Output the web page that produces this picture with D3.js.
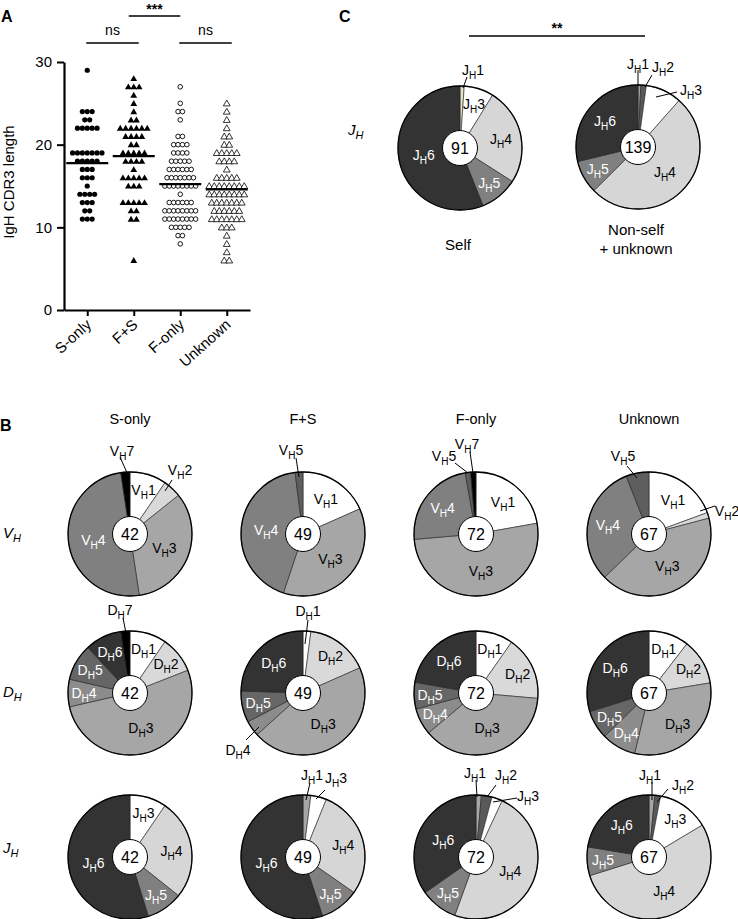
<!DOCTYPE html>
<html><head><meta charset="utf-8">
<script src="https://cdn.jsdelivr.net/npm/d3@7"></script>
<style>body{margin:0;background:#fff} svg{display:block} text{font-family:Arial,"Liberation Sans",sans-serif}</style>
</head><body><svg id="c" width="738" height="919"></svg>
<script>
// ---------- Panel A data ----------
const groups = ["S-only","F+S","F-only","Unknown"];
const yTicks = [0,10,20,30];
const sOnly = [29,24,24,24,23,23,22,22,22,22,22,19,19,19,19,19,19,19,18,18,18,18,18,17,17,17,16,16,16,15,14,14,14,14,13,13,13,12,12,11,11,11];
const fPlusS = [28,27,27,27,26,25,24,23,23,22,22,22,22,22,22,21,21,21,21,20,20,19,19,19,19,19,18,18,18,18,17,16,16,16,16,16,15,15,15,13,13,13,13,13,12,12,11,11,6];
const fOnly = [27,25,24,24,23,21,21,20,20,20,20,19,19,19,19,18,18,18,18,18,17,17,17,17,17,17,16,16,16,16,16,16,16,15,15,15,15,15,15,15,15,14,13,13,13,13,13,13,12,12,12,12,12,12,12,12,11,11,11,11,11,11,11,11,10,10,10,10,10,9,9,8];
const unknown = [25,24,23,22,21,21,20,20,19,19,19,19,19,18,18,18,18,17,16,16,16,16,16,15,15,15,15,15,15,15,15,14,14,14,14,14,14,14,14,13,13,13,13,13,13,13,12,12,12,12,12,12,11,11,11,11,11,11,11,10,10,10,9,8,7,6,6];

// ---------- Panel B / C data (counts per gene family) ----------
const colTitles = ["S-only","F+S","F-only","Unknown"];
const vhFamilies = ["1","2","3","4","5","7"];
const vhSOnly   = [4,2,14,21,0,1];
const vhFS      = [9,0,18,21,1,0];
const vhFOnly   = [16,0,37,17,1,1];
const vhUnknown = [13,1,28,21,4,0];
const dhFamilies = ["1","2","3","4","5","6","7"];
const dhSOnly   = [4,4,22,3,4,4,1];
const dhFS      = [1,8,22,2,4,12,0];
const dhFOnly   = [7,12,27,5,5,16,0];
const dhUnknown = [7,8,21,6,5,20,0];
const jhFamilies = ["1","2","3","4","5","6"];
const jhSOnly   = [0,0,4,11,4,23];
const jhFS      = [1,0,2,14,5,27];
const jhFOnly   = [1,2,2,35,7,25];
const jhUnknown = [1,1,9,36,5,15];
const jhSelf    = [1,0,7,23,9,51];
const jhNonSelf = [1,2,13,71,12,40];

// ---------- styles ----------
const vhColors = ["#ffffff","#d9d9d9","#a6a6a6","#808080","#5e5e5e","#000000"];
const vhText   = ["#000","#000","#000","#fff","#fff","#fff"];
const dhColors = ["#ffffff","#d9d9d9","#a6a6a6","#8c8c8c","#666666","#333333","#000000"];
const dhText   = ["#000","#000","#000","#fff","#fff","#fff","#fff"];
const jhColors = ["#a6a6a6","#595959","#ffffff","#d6d6d6","#808080","#333333"];
const jhSelfColors = ["#e6e3c8","#595959","#ffffff","#d6d6d6","#808080","#333333"];
const jhText   = ["#000","#fff","#000","#000","#fff","#fff"];

// callout placements relative to the pie centre (label centre, leader line)
const callouts = {
  "V|0": {"7":[-8,-83,-10,-77,-2,-59], "2":[50,-64,42,-54,35,-43]},
  "V|1": {"5":[-12,-84,-7,-76,-4,-57]},
  "V|2": {"7":[-9,-90,-6,-82,-3,-61], "5":[-32,-78,-21,-71,-8,-61]},
  "V|3": {"5":[-26,-78,-22,-68,-12,-56], "2":[78,-23,66,-28,51,-23]},
  "D|0": {"7":[-10,-83,-7,-75,-4,-60]},
  "D|1": {"1":[5,-82,5,-73,2,-49], "4":[-65,57,-57,47,-44,34]},
  "D|2": {}, "D|3": {},
  "J|0": {},
  "J|1": {"1":[9,-82,7,-74,3,-57], "3":[33,-79,22,-67,13,-58]},
  "J|2": {"1":[-1,-84,0,-77,1,-60], "2":[30,-82,20,-72,11,-60], "3":[52,-61,41,-59,17,-55]},
  "J|3": {"1":[1,-82,3,-75,3,-57], "2":[34,-72,19,-68,8,-55]},
  "C|0": {"1":[13,-78,7,-71,3,-60]},
  "C|1": {"1":[0,-83,0,-77,0,-61], "2":[25,-80,14,-72,7,-60], "3":[53,-57,39,-55,18,-50]}
};

const svg = d3.select("#c");

// ================= Panel A =================
const y = d3.scaleLinear().domain([0,30]).range([310,62]);
const x = d3.scalePoint().domain(groups).range([64,250]).padding(0.5);

const yAx = svg.append("g").attr("transform","translate(64,0)")
  .call(d3.axisLeft(y).tickValues(yTicks).tickSize(7).tickSizeOuter(0).tickPadding(5));
yAx.selectAll("text").attr("font-size",15).attr("font-family","Arial, Liberation Sans");
yAx.select(".domain").attr("stroke-width",2.2);
yAx.selectAll(".tick line").attr("stroke-width",2);

const xAx = svg.append("g").attr("transform","translate(0,310)")
  .call(d3.axisBottom(x).tickSize(6).tickSizeOuter(0).tickFormat(""));
xAx.select(".domain").attr("stroke-width",2.2);
xAx.selectAll(".tick line").attr("stroke-width",2);
groups.forEach(g=>{
  svg.append("text").attr("transform",`translate(${x(g)+5},326) rotate(-42)`)
    .attr("text-anchor","end").attr("font-size",15).text(g);
});
svg.append("text").attr("transform","translate(14,182) rotate(-90)")
  .attr("text-anchor","middle").attr("font-size",15).text("IgH CDR3 length");

const seriesA = [sOnly,fPlusS,fOnly,unknown];
const markers = [
  {shape:"circle",fill:"#000",sp:4.9},
  {shape:"tri",fill:"#000",sp:5.4},
  {shape:"circle",fill:"#fff",sp:4.4},
  {shape:"tri",fill:"#fff",sp:5.0}
];
const tri = d3.symbol().type(d3.symbolTriangle).size(20);
seriesA.forEach((vals,gi)=>{
  const g = groups[gi], m = markers[gi];
  const roll = d3.rollup(vals, v=>v.length, d=>d);
  const pts = [];
  roll.forEach((n,v)=>{ for(let i=0;i<n;i++) pts.push({v, off:(i-(n-1)/2)*m.sp}); });
  const gg = svg.append("g");
  pts.forEach(p=>{
    const cx = x(g)+p.off, cy = y(p.v);
    if(m.shape==="circle"){
      gg.append("circle").attr("cx",cx).attr("cy",cy).attr("r", m.fill==="#000"?2.6:2.3)
        .attr("fill",m.fill).attr("stroke","#000").attr("stroke-width", m.fill==="#000"?0:0.9);
    } else {
      gg.append("path").attr("d",tri).attr("transform",`translate(${cx},${cy+0.6})`)
        .attr("fill",m.fill).attr("stroke","#000").attr("stroke-width", m.fill==="#000"?0:0.8);
    }
  });
  const mu = d3.mean(vals);
  svg.append("line").attr("x1",x(g)-21).attr("x2",x(g)+21).attr("y1",y(mu)).attr("y2",y(mu))
    .attr("stroke","#000").attr("stroke-width",2.2);
});

// significance bars
function sigBar(x1,x2,yy,label,ty,fs,bold){
  svg.append("line").attr("x1",x1).attr("x2",x2).attr("y1",yy).attr("y2",yy).attr("stroke","#000").attr("stroke-width",1.4);
  svg.append("text").attr("x",(x1+x2)/2).attr("y",ty).attr("text-anchor","middle")
    .attr("font-size",fs).attr("font-weight",bold?"bold":"normal").text(label);
}
sigBar(x("S-only")-1, x("F+S")+5, 43, "ns", 35, 14, false);
sigBar(x("F-only")-1, x("Unknown")+5, 43, "ns", 35, 14, false);
sigBar(x("F+S")-5, x("F-only"), 16, "***", 14, 14, true);

svg.append("text").attr("x",1).attr("y",22).attr("font-size",16).attr("font-weight","bold").text("A");
svg.append("text").attr("x",0).attr("y",431).attr("font-size",16).attr("font-weight","bold").text("B");
svg.append("text").attr("x",339).attr("y",22).attr("font-size",16).attr("font-weight","bold").text("C");

// ================= Pies =================
const R = 62, RIN = 17.5;
const pieGen = d3.pie().sort(null).value(d=>d.n);
const arcGen = d3.arc().innerRadius(0).outerRadius(R);

function geneLabel(g, tx, ty, prefix, num, color){
  const t = g.append("text").attr("x",tx).attr("y",ty+5).attr("text-anchor","middle")
    .attr("font-size",14).attr("fill",color);
  t.append("tspan").text(prefix);
  t.append("tspan").attr("font-size",10).attr("dy",4).text("H");
  t.append("tspan").attr("dy",-4).text(num);
}

function drawPie(cx, cy, counts, fams, prefix, colors, textCols, co){
  const g = svg.append("g").attr("transform",`translate(${cx},${cy})`);
  const data = counts.map((n,i)=>({n, fam:fams[i], col:colors[i], tc:textCols[i]}));
  const arcs = pieGen(data);
  g.selectAll("path.s").data(arcs.filter(a=>a.data.n>0)).join("path").attr("class","s")
    .attr("d",arcGen).attr("fill",d=>d.data.col).attr("stroke","#222").attr("stroke-width",0.6);
  g.append("circle").attr("r",R).attr("fill","none").attr("stroke","#000").attr("stroke-width",1.3);
  g.append("circle").attr("r",RIN).attr("fill","#fff").attr("stroke","#000").attr("stroke-width",1);
  g.append("text").attr("y",6).attr("text-anchor","middle").attr("font-size",16).text(d3.sum(counts));
  arcs.filter(a=>a.data.n>0).forEach(a=>{
    const c = co[a.data.fam];
    if(c){
      g.append("line").attr("x1",c[2]).attr("y1",c[3]).attr("x2",c[4]).attr("y2",c[5])
        .attr("stroke","#000").attr("stroke-width",1);
      geneLabel(g, c[0], c[1], prefix, a.data.fam, "#000");
    } else {
      const span = (a.endAngle - a.startAngle) * 180 / Math.PI;
      const rl = span > 120 ? 37 : (span > 60 ? 42 : 46);
      const mid = (a.startAngle + a.endAngle) / 2;
      geneLabel(g, rl*Math.sin(mid), -rl*Math.cos(mid), prefix, a.data.fam, a.data.tc);
    }
  });
}

const colX = [130,303,476,649];
const rowY = [534,693,857];
colTitles.forEach((t,i)=>{
  svg.append("text").attr("x",colX[i]).attr("y",424).attr("text-anchor","middle").attr("font-size",14.5).text(t);
});
const vhSets = [vhSOnly,vhFS,vhFOnly,vhUnknown];
const dhSets = [dhSOnly,dhFS,dhFOnly,dhUnknown];
const jhSets = [jhSOnly,jhFS,jhFOnly,jhUnknown];
vhSets.forEach((c,i)=>drawPie(colX[i],rowY[0],c,vhFamilies,"V",vhColors,vhText,callouts["V|"+i]));
dhSets.forEach((c,i)=>drawPie(colX[i],rowY[1],c,dhFamilies,"D",dhColors,dhText,callouts["D|"+i]));
jhSets.forEach((c,i)=>drawPie(colX[i],rowY[2],c,jhFamilies,"J",jhColors,jhText,callouts["J|"+i]));

function rowLabel(xx,yy,letter){
  const t = svg.append("text").attr("x",xx).attr("y",yy).attr("font-size",15).attr("font-style","italic");
  t.append("tspan").text(letter);
  t.append("tspan").attr("font-size",11).attr("dy",4).text("H");
}
rowLabel(3,rowY[0]+4,"V");
rowLabel(3,rowY[1]+4,"D");
rowLabel(3,rowY[2]-4,"J");

// Panel C
drawPie(460,148,jhSelf,jhFamilies,"J",jhSelfColors,jhText,callouts["C|0"]);
drawPie(638,147,jhNonSelf,jhFamilies,"J",jhColors,jhText,callouts["C|1"]);
rowLabel(348,135,"J");
sigBar(469,645,36,"**",33,14,true);
svg.append("text").attr("x",458).attr("y",250).attr("text-anchor","middle").attr("font-size",15).text("Self");
svg.append("text").attr("x",636).attr("y",235).attr("text-anchor","middle").attr("font-size",15).text("Non-self");
svg.append("text").attr("x",636).attr("y",254).attr("text-anchor","middle").attr("font-size",15).text("+ unknown");
</script></body></html>
